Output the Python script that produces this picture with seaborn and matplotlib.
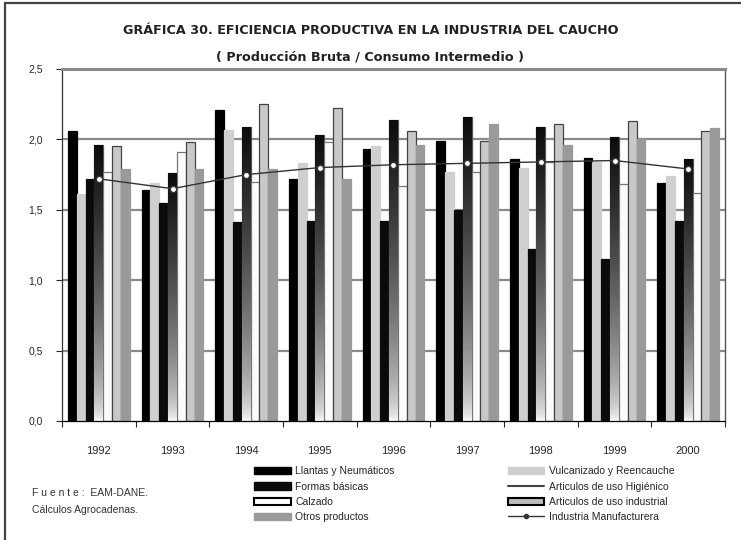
import matplotlib
matplotlib.use("Agg")
import matplotlib.pyplot as plt
import numpy as np
import pandas as pd
import seaborn as sns
from matplotlib.lines import Line2D
from matplotlib.patches import Patch, Rectangle

# --- data ---
years = ["1992", "1993", "1994", "1995", "1996", "1997", "1998", "1999", "2000"]
series = [
    "Llantas y Neumáticos",
    "Vulcanizado y Reencauche",
    "Formas básicas",
    "Articulos de uso Higiénico",
    "Calzado",
    "Articulos de uso industrial",
    "Otros productos",
]
llantas = [2.06, 1.64, 2.21, 1.72, 1.93, 1.99, 1.86, 1.87, 1.69]
vulcanizado = [1.61, 1.69, 2.07, 1.83, 1.95, 1.77, 1.80, 1.84, 1.74]
formas = [1.72, 1.55, 1.41, 1.42, 1.42, 1.50, 1.22, 1.15, 1.42]
higienico = [1.96, 1.76, 2.09, 2.03, 2.14, 2.16, 2.09, 2.02, 1.86]
calzado = [1.77, 1.91, 1.70, 1.98, 1.67, 1.77, 1.84, 1.68, 1.62]
industrial = [1.95, 1.98, 2.25, 2.22, 2.06, 1.99, 2.11, 2.13, 2.06]
otros = [1.79, 1.79, 1.79, 1.72, 1.96, 2.11, 1.96, 2.00, 2.08]
manufacturera = [1.72, 1.65, 1.75, 1.80, 1.82, 1.83, 1.84, 1.85, 1.79]

values = [llantas, vulcanizado, formas, higienico, calzado, industrial, otros]
colors = ["#000000", "#cfcfcf", "#0a0a0a", "#ffffff", "#fbfbfb", "#c8c8c8", "#9a9a9a"]
edges = ["#000000", "#cfcfcf", "#0a0a0a", "#555555", "#777777", "#444444", "#9a9a9a"]

df = pd.DataFrame(
    [(y, s, v[i]) for s, v in zip(series, values) for i, y in enumerate(years)],
    columns=["year", "series", "value"],
)

sns.set_style("white")
plt.rcParams["font.family"] = ["Liberation Sans", "DejaVu Sans"]

fig = plt.figure(figsize=(7.41, 5.40), dpi=100)
ax = fig.add_axes([62 / 741, 1 - 421 / 540, 663 / 741, 352 / 540])

sns.barplot(
    data=df, x="year", y="value", hue="series", hue_order=series, order=years,
    palette=colors, width=0.84, ax=ax, legend=False, saturation=1,
)

for cont, ec in zip(ax.containers, edges):
    for p in cont:
        p.set_edgecolor(ec)
        p.set_linewidth(0.9)

# black -> white gradient on the "Higiénico" bars
grad = np.linspace(0, 1, 256).reshape(-1, 1) ** 0.55
for p in ax.containers[3]:
    x, w, h = p.get_x(), p.get_width(), p.get_height()
    im = ax.imshow(grad, extent=[x, x + w, 0, h], origin="lower", cmap="gray_r",
                   vmin=0, vmax=1.05, aspect="auto", zorder=p.get_zorder())
    im.set_clip_path(p)

sns.pointplot(
    x=years, y=manufacturera, ax=ax, color="#333333", markers="o",
    linestyles="-", linewidth=1.0, markersize=4.5, markerfacecolor="white",
    markeredgecolor="#333333", markeredgewidth=1.0,
)

ax.set_xlim(-0.5, 8.5)
ax.set_ylim(0, 2.5)
ax.set_xlabel("")
ax.set_ylabel("")

ax.set_yticks([0, 0.5, 1.0, 1.5, 2.0, 2.5])
ax.set_yticklabels(["0,0", "0,5", "1,0", "1,5", "2,0", "2,5"], fontsize=7.5)
ax.tick_params(axis="y", length=4, width=0.8, direction="out", pad=10, left=True)
for yv in [0.5, 1.0, 1.5, 2.0]:
    ax.axhline(yv, color="#8a8a8a", lw=1.6, zorder=0)

ax.set_xticks(range(len(years)))
ax.set_xticklabels(years, fontsize=8)
ax.tick_params(axis="x", length=0, pad=18)
ax.set_xticks(np.arange(-0.5, 9, 1), minor=True)
ax.tick_params(axis="x", which="minor", length=4, width=0.8, direction="out", bottom=True)

ax.spines["top"].set_color("#8a8a8a")
ax.spines["top"].set_linewidth(2.2)
ax.spines["right"].set_color("#555555")
ax.spines["right"].set_linewidth(1.0)
ax.spines["left"].set_color("#333333")
ax.spines["left"].set_linewidth(0.9)
ax.spines["bottom"].set_color("#000000")
ax.spines["bottom"].set_linewidth(0.9)

narrow = ["Liberation Sans Narrow", "DejaVu Sans"]
fig.text(0.5, 1 - 31 / 540, "GRÁFICA 30. EFICIENCIA PRODUCTIVA EN LA INDUSTRIA DEL CAUCHO",
         ha="center", va="center", fontsize=9.2, fontweight="bold", family=narrow, color="#222222")
fig.text(0.5, 1 - 57 / 540, "( Producción Bruta / Consumo Intermedio )",
         ha="center", va="center", fontsize=9.2, fontweight="bold", family=narrow, color="#222222")

fig.text(32 / 741, 1 - 493 / 540, "F u e n t e :  EAM-DANE.", fontsize=7.5, va="center", color="#333333")
fig.text(32 / 741, 1 - 510 / 540, "Cálculos Agrocadenas.", fontsize=7.5, va="center", color="#333333")

handles = [
    Patch(facecolor=colors[0], edgecolor=edges[0]),
    Patch(facecolor=colors[1], edgecolor=edges[1]),
    Patch(facecolor=colors[2], edgecolor=edges[2]),
    Line2D([], [], color="#444444", lw=1.5),
    Patch(facecolor="#ffffff", edgecolor="#000000", lw=1.5),
    Patch(facecolor="#bcbcbc", edgecolor="#000000", lw=1.5),
    Patch(facecolor=colors[6], edgecolor=edges[6]),
    Line2D([], [], color="#333333", lw=1.0, marker="o", markersize=3,
           markerfacecolor="#333333"),
]
labels = series + ["Industria Manufacturera"]
order = [0, 2, 4, 6, 1, 3, 5, 7]
fig.legend(
    [handles[i] for i in order], [labels[i] for i in order],
    loc="upper left", bbox_to_anchor=(245 / 741, 1 - 457 / 540), ncol=2,
    frameon=False, fontsize=7.5, handlelength=3.5, handleheight=0.7,
    handletextpad=0.4, columnspacing=10.9, labelspacing=0.5,
)

fig.add_artist(Rectangle((0.007, -0.01), 1.2, 1 - 0.006 + 0.01, transform=fig.transFigure,
                         fill=False, edgecolor="#444444", lw=1.6))

fig.savefig("out.png", dpi=100)
plt.close(fig)
